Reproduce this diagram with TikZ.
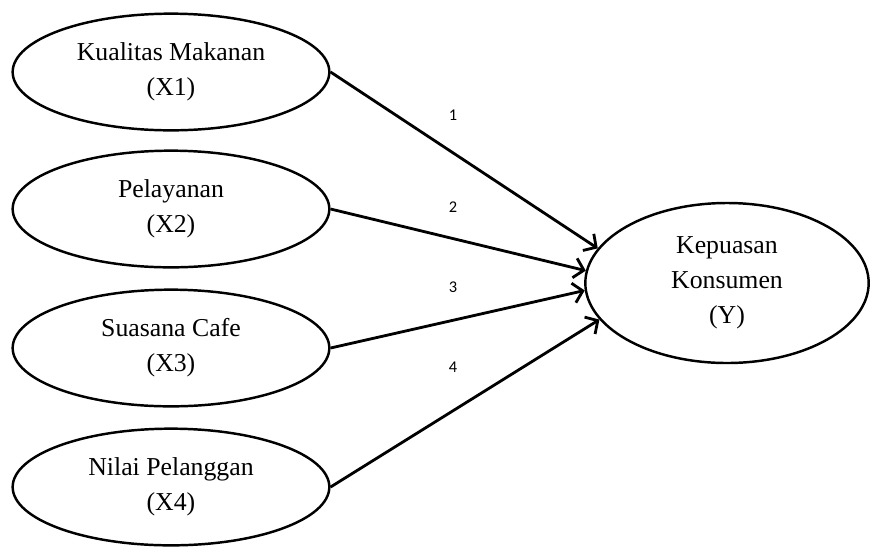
\documentclass[tikz,border=0pt]{standalone}
\usepackage{fontspec}
\setmainfont{Liberation Serif}
\newfontfamily\labelfont{Carlito}
\usepackage{tikz}
\usetikzlibrary{positioning, shapes.geometric, arrows.meta}

\begin{document}
\begin{tikzpicture}[
        x=0.03cm, y=-0.03cm,
        every node/.style={font=\fontsize{22}{30}\selectfont},
        factor/.style={ellipse, draw, line width=2.1pt, inner sep=0pt, align=center, minimum width=9.5cm, minimum height=3.5cm},
        outcome/.style={ellipse, draw, line width=2.1pt, inner sep=0pt, align=center, minimum width=8.5cm, minimum height=4.8cm},
        path/.style={line width=2.4pt, -{Straight Barb[length=8pt, width=17pt]}},
        weight/.style={font=\labelfont\fontsize{14}{16}\selectfont},
    ]
        \useasboundingbox (0,0) rectangle (873,548);

        % Nodes
        \node[factor] (x1) at (171,72) {Kualitas Makanan\\(X1)};
        \node[factor] (x2) at (171,209) {Pelayanan\\(X2)};
        \node[factor] (x3) at (171,348) {Suasana Cafe\\(X3)};
        \node[factor] (x4) at (171,487) {Nilai Pelanggan\\(X4)};
        \node[outcome] (y) at (727,283) {Kepuasan\\Konsumen\\(Y)};

        % Labels
        \node[weight] (w1) at (453,115) {1};
        \node[weight] (w2) at (453,207) {2};
        \node[weight] (w3) at (453,287) {3};
        \node[weight] (w4) at (453,367) {4};

        % Arrows
        \draw[path] (x1.east) -- (y.165);
        \draw[path] (x2.east) -- (y.175);
        \draw[path] (x3.east) -- (y.183);
        \draw[path] (x4.east) -- (y.196);

    \end{tikzpicture}
\end{document}
